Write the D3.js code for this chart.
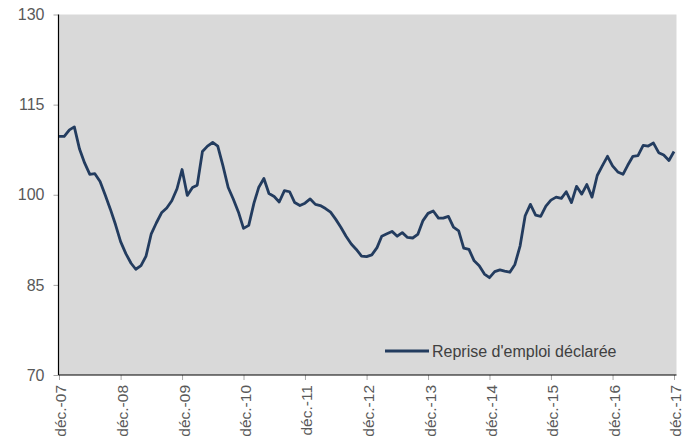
<!DOCTYPE html>
<meta charset="utf-8">
<script src="https://d3js.org/d3.v7.min.js"></script>
<style>
    body { margin: 0; background: #fff; }
    text { font-family: "Liberation Sans", Arial, sans-serif; }
</style>
<svg id="chart" width="695" height="445"></svg>
<script>
    // Monthly index, déc. 2007 -> déc. 2017
    const startMonth = new Date(2007, 11, 1);
    const values = [
        109.7, 109.7, 110.8, 111.3, 107.6, 105.3, 103.4, 103.5, 102.2, 99.9,
        97.6, 95.0, 92.2, 90.2, 88.6, 87.6, 88.2, 89.8, 93.5, 95.3,
        97.0, 97.8, 99.0, 101.0, 104.2, 99.9, 101.2, 101.6, 107.2, 108.1,
        108.7, 108.1, 104.8, 101.2, 99.3, 97.1, 94.4, 94.9, 98.6, 101.2,
        102.7, 100.2, 99.7, 98.8, 100.7, 100.5, 98.7, 98.2, 98.6, 99.3,
        98.4, 98.2, 97.7, 97.1, 95.9, 94.6, 93.1, 91.8, 90.9, 89.8,
        89.7, 90.0, 91.2, 93.1, 93.5, 93.9, 93.1, 93.7, 92.9, 92.8,
        93.4, 95.7, 96.9, 97.3, 96.1, 96.1, 96.4, 94.6, 94.0, 91.1,
        90.9, 89.0, 88.2, 86.8, 86.2, 87.2, 87.5, 87.3, 87.1, 88.4,
        91.5, 96.5, 98.4, 96.6, 96.4, 98.1, 99.1, 99.6, 99.4, 100.5,
        98.7, 101.4, 100.1, 101.7, 99.6, 103.2, 104.8, 106.4, 104.8, 103.8,
        103.4, 104.9, 106.4, 106.5, 108.2, 108.1, 108.6, 107.0, 106.6, 105.7,
        107.2
    ];
    const yTicks = [70, 85, 100, 115, 130];
    const tickYears = d3.range(2007, 2018);
    const seriesName = "Reprise d'emploi déclarée";

    const data = values.map((v, i) => ({ date: d3.timeMonth.offset(startMonth, i), value: v }));

    const svg = d3.select("#chart");
    const plotL = 58.5, plotR = 676.5, plotT = 14.5, plotB = 375;

    const x = d3.scaleTime()
        .domain([startMonth, data[data.length - 1].date])
        .range([plotL + 0.5, 674]);
    const y = d3.scaleLinear()
        .domain([70, 130])
        .range([plotB, plotT]);

    // plot background
    svg.append("rect")
        .attr("x", plotL).attr("y", plotT)
        .attr("width", plotR - plotL).attr("height", plotB - plotT)
        .attr("fill", "#d9d9d9");

    // y axis
    const yAxis = svg.append("g")
        .attr("transform", `translate(${plotL},0)`)
        .call(d3.axisLeft(y).tickValues(yTicks).tickSize(5).tickPadding(9));
    yAxis.select(".domain").remove();
    yAxis.selectAll(".tick line").attr("stroke", "#a6a6a6");
    yAxis.selectAll(".tick text")
        .attr("fill", "#595959")
        .style("font-size", "16px");

    // x axis
    const xAxis = svg.append("g")
        .attr("transform", `translate(0,${plotB})`)
        .call(d3.axisBottom(x)
            .tickValues(tickYears.map(yr => new Date(yr, 11, 1)))
            .tickFormat(d => "déc.-" + String(d.getFullYear()).slice(2))
            .tickSize(5));
    xAxis.select(".domain").remove();
    xAxis.selectAll(".tick line").attr("stroke", "#a6a6a6");
    xAxis.selectAll(".tick text")
        .attr("fill", "#595959")
        .style("font-size", "15.5px")
        .attr("text-anchor", "end")
        .attr("transform", "rotate(-90)")
        .attr("x", -10)
        .attr("y", 0)
        .attr("dy", "0.45em");

    // axis lines
    svg.append("line")
        .attr("x1", plotL).attr("x2", plotL)
        .attr("y1", plotT).attr("y2", plotB)
        .attr("stroke", "#000").attr("stroke-width", 1.2);
    svg.append("line")
        .attr("x1", plotL).attr("x2", plotR)
        .attr("y1", plotB).attr("y2", plotB)
        .attr("stroke", "#000").attr("stroke-width", 1.2);

    // series
    const line = d3.line()
        .x(d => x(d.date))
        .y(d => y(d.value));
    svg.append("path")
        .datum(data)
        .attr("d", line)
        .attr("fill", "none")
        .attr("stroke", "#233c5f")
        .attr("stroke-width", 2.8)
        .attr("stroke-linejoin", "round");

    // legend
    const legend = svg.append("g").attr("transform", "translate(385,351)");
    legend.append("line")
        .attr("x1", 0).attr("x2", 44)
        .attr("stroke", "#233c5f").attr("stroke-width", 2.8);
    legend.append("text")
        .attr("x", 47)
        .attr("dy", "0.35em")
        .attr("fill", "#404040")
        .style("font-size", "16px")
        .text(seriesName);
</script>
